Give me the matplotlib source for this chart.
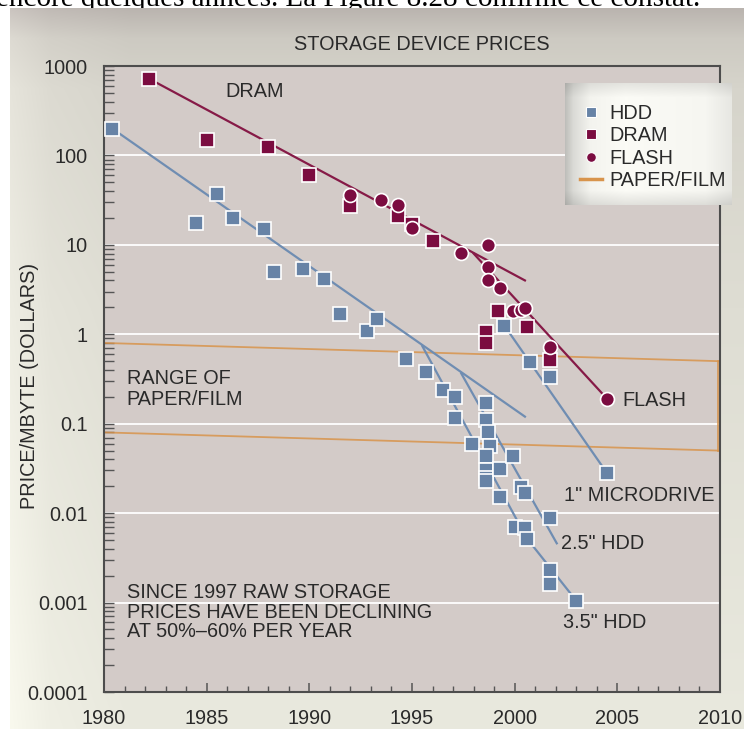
import numpy as np
import matplotlib.pyplot as plt
import matplotlib.transforms as mtransforms
from matplotlib.lines import Line2D
from matplotlib.ticker import MultipleLocator, LogLocator, NullFormatter, FuncFormatter

plt.rcParams['font.family'] = ['Liberation Sans', 'DejaVu Sans']

# price per megabyte, dollars
hdd_year = [1980.4, 1984.5, 1985.5, 1986.3, 1987.8, 1988.3, 1989.7, 1990.7, 1991.5, 1992.8,
            1993.3, 1994.7, 1995.7, 1996.5, 1997.1, 1997.1, 1997.9, 1998.6, 1998.6, 1998.7,
            1998.8, 1998.6, 1998.6, 1998.6, 1998.6, 1999.3, 1999.9, 1999.3, 2000.3, 2000.5,
            2000.0, 2000.5, 2000.6, 2001.7, 2001.7, 2001.7, 2003.0, 1999.5, 2000.75, 2001.7,
            2004.5]
hdd_price = [200, 17.5, 37, 20, 15, 5.0, 5.4, 4.2, 1.7, 1.1,
             1.5, 0.53, 0.38, 0.24, 0.2, 0.115, 0.059, 0.17, 0.11, 0.08,
             0.057, 0.043, 0.03, 0.025, 0.023, 0.031, 0.043, 0.015, 0.0195, 0.017,
             0.0070, 0.0069, 0.0051, 0.0088, 0.0023, 0.0016, 0.00105, 1.25, 0.49, 0.33,
             0.028]

dram_year = [1982.2, 1985.0, 1988.0, 1990.0, 1992.0, 1994.3, 1995.0, 1996.0, 1998.6, 1998.6,
             1999.2, 2000.6, 2001.7]
dram_price = [720, 150, 125, 60, 27, 21, 17, 11, 1.05, 0.8, 1.8, 1.2, 0.52]

flash_year = [1992.0, 1993.5, 1994.3, 1995.0, 1997.4, 1998.7, 1998.7, 1998.7, 1999.3, 1999.9,
              2000.3, 2000.5, 2001.7, 2004.5]
flash_price = [36, 32, 28, 15.5, 8.2, 10, 5.6, 4.0, 3.3, 1.8, 1.85, 1.95, 0.72, 0.19]

# trend lines
hdd_trend_year, hdd_trend_price = [1980.4, 2000.5], [200, 0.12]
hdd35_year, hdd35_price = [1995.5, 2000.6, 2003.0], [0.74, 0.0052, 0.00105]
hdd25_year, hdd25_price = [1997.4, 2002.05], [0.365, 0.0046]
micro_year, micro_price = [1999.5, 2004.5], [1.25, 0.028]
dram_trend_year, dram_trend_price = [1982.2, 2000.5], [720, 4.0]
flash_trend_year, flash_trend_price = [1998.0, 2004.5], [8.0, 0.19]
paper_year = [1980, 2010]
paper_high = [0.8, 0.5]
paper_low = [0.08, 0.05]

hdd_color = '#6783a6'
hdd_line = '#6f8db2'
dram_color = '#7b0c40'
dram_line = '#861a47'
paper_color = '#d8944c'
text_color = '#2a2a2a'
fs = 14.3

W, H = 744, 729
fig = plt.figure(figsize=(W / 100, H / 100), dpi=100, facecolor='white')


def box(x0, y0, x1, y1):
    return [x0 / W, 1 - y1 / H, (x1 - x0) / W, (y1 - y0) / H]


# shaded backdrop
bg = fig.add_axes(box(10, 8, W, H), zorder=-10)
rows = np.arange(H - 8)
stops = [0, 30, 80, 300, H - 8]
base = np.stack([np.interp(rows, stops, [186, 205, 214, 222, 233]),
                 np.interp(rows, stops, [180, 202, 212, 221, 233]),
                 np.interp(rows, stops, [175, 194, 203, 211, 222])], axis=1)
cols = np.arange(W - 10)
lift = np.interp(cols, [0, 40, 120], [16, 6, 0])
img = np.clip(base[:, None, :] + lift[None, :, None], 0, 255) / 255
bg.imshow(img, aspect='auto')
bg.axis('off')

fig.text(700 / W, 1 - 6 / H, 'encore quelques années. La Figure 8.28 confirme ce constat.',
         ha='right', va='baseline', family='Liberation Serif', fontsize=21, color='black',
         zorder=-20)

ax = fig.add_axes(box(104, 66, 720, 692))
ax.set_facecolor('#d3cbc8')
ax.set_yscale('log')
ax.set_xlim(1980, 2010)
ax.set_ylim(1e-4, 1e3)

ax.xaxis.set_major_locator(MultipleLocator(5))
ax.xaxis.set_minor_locator(MultipleLocator(1))
ax.yaxis.set_major_locator(LogLocator(base=10, numticks=20))
ax.yaxis.set_minor_locator(LogLocator(base=10, subs=np.arange(2, 10), numticks=20))
ax.yaxis.set_minor_formatter(NullFormatter())
ax.yaxis.set_major_formatter(FuncFormatter(lambda v, p: f'{v:g}'))

ax.tick_params(axis='x', which='major', direction='in', length=6.5, width=1.1, color='#555555',
               pad=12, labelsize=fs, labelcolor=text_color)
ax.tick_params(axis='x', which='minor', direction='in', length=4.3, width=1.0, color='#555555')
ax.tick_params(axis='y', which='both', direction='in', length=7, width=1.0, color='#555555',
               pad=11.5, labelsize=fs, labelcolor=text_color)
for s in ax.spines.values():
    s.set_color('#4d4d4d')
    s.set_linewidth(1.5)

ax.yaxis.grid(True, which='major', color='white', lw=1.3)
ax.set_axisbelow(True)

# paper/film band with bracket on the right
ax.plot(paper_year, paper_high, color=paper_color, lw=1.3, alpha=0.85, zorder=2)
ax.plot(paper_year, paper_low, color=paper_color, lw=1.3, alpha=0.85, zorder=2)
shift = mtransforms.offset_copy(ax.transData, fig=fig, x=-2, y=0, units='dots')
ax.plot([paper_year[-1]] * 2, [paper_low[-1], paper_high[-1]], color=paper_color, lw=1.3,
        alpha=0.85, transform=shift, clip_on=False, zorder=2)

for xs, ys in [(hdd_trend_year, hdd_trend_price), (hdd35_year, hdd35_price),
               (hdd25_year, hdd25_price), (micro_year, micro_price)]:
    ax.plot(xs, ys, color=hdd_line, lw=1.6, zorder=3)
for xs, ys in [(dram_trend_year, dram_trend_price), (flash_trend_year, flash_trend_price)]:
    ax.plot(xs, ys, color=dram_line, lw=1.6, zorder=3)

ax.plot(hdd_year, hdd_price, ls='none', marker='s', ms=9.5, mfc=hdd_color, mec='white',
        mew=1.2, zorder=4)
ax.plot(dram_year, dram_price, ls='none', marker='s', ms=9.5, mfc=dram_color, mec='white',
        mew=1.2, zorder=4)
ax.plot(flash_year, flash_price, ls='none', marker='o', ms=10, mfc=dram_color, mec='white',
        mew=1.2, zorder=5)

notes = [
    (1985.9, 525, 'DRAM', 1.2),
    (1981.1, 0.244, 'RANGE OF\nPAPER/FILM', 1.1),
    (1981.1, 0.00078, 'SINCE 1997 RAW STORAGE\nPRICES HAVE BEEN DECLINING\nAT 50%\u201360% PER YEAR', 1.03),
    (2005.25, 0.184, 'FLASH', 1.2),
    (2002.4, 0.0159, '1" MICRODRIVE', 1.2),
    (2002.26, 0.00461, '2.5" HDD', 1.2),
    (2002.36, 0.0006, '3.5" HDD', 1.2),
]
for x, y, s, lsp in notes:
    ax.text(x, y, s, ha='left', va='center', fontsize=fs, color=text_color, linespacing=lsp,
            zorder=6)

fig.text(422 / W, 1 - 44 / H, 'STORAGE DEVICE PRICES', ha='center', va='center',
         fontsize=fs, color=text_color)
fig.text(30 / W, 1 - 386 / H, 'PRICE/MBYTE (DOLLARS)', rotation=90, ha='center',
         va='center', fontsize=fs, color=text_color)

# legend panel with a soft metallic shading
lax = fig.add_axes(box(565, 83, 732, 205), zorder=5)
lw_, lh_ = 167, 122
hx = np.interp(np.arange(lw_), [0, 8, 25, 60, 140, lw_ - 1], [0.76, 0.87, 0.97, 1.0, 0.98, 0.92])
hy = np.interp(np.arange(lh_), [0, 14, lh_ - 15, lh_ - 1], [0.91, 1.0, 1.0, 0.90])
shade = hy[:, None] * hx[None, :]
tint = np.array([0.985, 0.985, 0.965])
lax.imshow(np.clip(shade[:, :, None] * tint[None, None, :], 0, 1), aspect='auto')
lax.axis('off')

handles = [
    Line2D([], [], ls='none', marker='s', ms=7.5, mfc=hdd_color, mec='white', mew=0.8),
    Line2D([], [], ls='none', marker='s', ms=7.5, mfc=dram_color, mec='white', mew=0.8),
    Line2D([], [], ls='none', marker='o', ms=7, mfc=dram_color, mec='white', mew=0.8),
    Line2D([], [], color=paper_color, lw=2.5),
]
lax.legend(handles, ['HDD', 'DRAM', 'FLASH', 'PAPER/FILM'], loc='upper left',
           bbox_to_anchor=(15 / lw_, 1 - 21 / lh_), frameon=False, handlelength=1.13,
           handletextpad=0.36, labelspacing=0.17, borderpad=0, borderaxespad=0,
           fontsize=fs, labelcolor=text_color)

fig.savefig('out.png', dpi=100, facecolor=fig.get_facecolor())
